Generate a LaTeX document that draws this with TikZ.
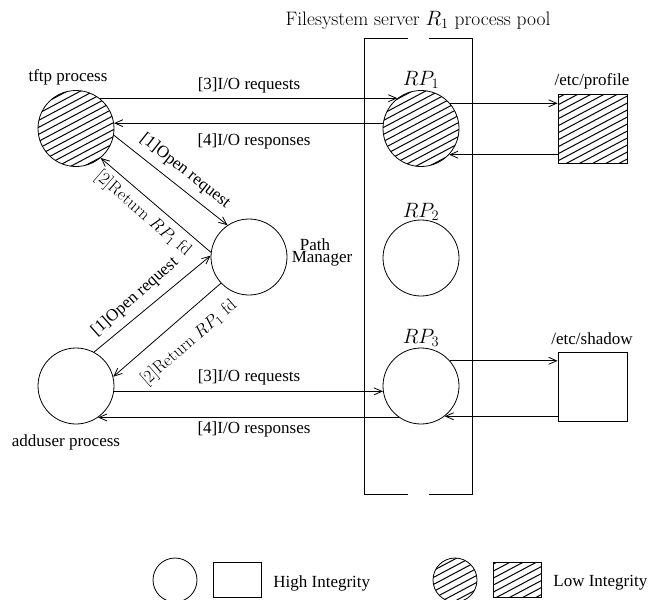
\documentclass[tikz,border=0pt]{standalone}
\usepackage[no-math]{fontspec}
\setmainfont{Liberation Serif}
\newfontfamily\cmfont{Latin Modern Roman}
\usetikzlibrary{arrows.meta}
\begin{document}
\begin{tikzpicture}[x=1pt,y=-1pt, line width=0.8pt,
  >={Straight Barb[length=8pt,width=7pt]},
  proc/.style={circle, draw, minimum size=76pt, inner sep=0pt},
  filebox/.style={rectangle, draw, minimum width=69pt, minimum height=69pt, inner sep=0pt},
  hatched/.style={path picture={
      \foreach \k in {-14,...,14}
        \draw[line width=1pt] ([shift={(-80pt,-42.5pt+\k*7pt)}]path picture bounding box.center) -- ++(160pt,85pt);
  }},
  lbl/.style={font=\fontsize{17}{19}\selectfont, inner sep=0pt},
  cmlbl/.style={font=\cmfont\fontsize{17.5}{19}\selectfont, inner sep=0pt},
  cmbig/.style={font=\cmfont\fontsize{19.5}{21}\selectfont, inner sep=0pt}]
\useasboundingbox (0,0) rectangle (649,600);

% process pool bracket
\draw (408,38) -- (364,38) -- (364,494) -- (408,494);
\draw (429,38) -- (472,38) -- (472,494) -- (429,494);

% nodes
\node[proc,hatched] (tftp) at (76,128.5) {};
\node[proc] (pm) at (249,257) {};
\node[proc] (add) at (76,386) {};
\node[proc,hatched] (rp1) at (421,128.5) {};
\node[proc] (rp2) at (421,258) {};
\node[proc] (rp3) at (421,386) {};
\node[filebox,hatched] (prof) at (592.5,128.5) {};
\node[filebox] (shad) at (592.5,386.5) {};

% labels
\node[lbl] (tftpl) at (68,77) {tftp process};
\node[lbl] (addl) at (66,442) {adduser process};
\node[lbl] (pml1) at (315,245) {Path};
\node[lbl] (pml2) at (322,259) {Manager};
\node[cmbig] (title) at (418,20) {Filesystem server $R_1$ process pool};
\node[cmbig] (rp1l) at (421,80) {$RP_1$};
\node[cmbig] (rp2l) at (421,212) {$RP_2$};
\node[cmbig] (rp3l) at (421,338) {$RP_3$};
\node[lbl] (profl) at (592,81) {/etc/profile};
\node[lbl] (shadl) at (592,339) {/etc/shadow};

% horizontal connectors
\draw[->] (tftp.52) -- (rp1.128);
\draw[->] (rp1.172) -- (tftp.8);
\draw[->] (rp1.41) -- (rp1.41 -| prof.west);
\draw[<-] (rp1.-43) -- (rp1.-43 -| prof.west);
\draw[->] (rp3.41) -- (rp3.41 -| shad.west);
\draw[<-] (rp3.-52) -- (rp3.-52 -| shad.west);
\draw[->] (add.-8) -- (rp3.188);
\draw[->] (rp3.235) -- (add.-55);

\node[lbl] (l3a) at (249,85) {[3]I/O requests};
\node[lbl] (l4a) at (254,141) {[4]I/O responses};
\node[lbl] (l3b) at (249,377) {[3]I/O requests};
\node[lbl] (l4b) at (254,429) {[4]I/O responses};

% diagonal connectors
\draw[->] (tftp.-10) -- (pm.124);
\draw[->] (pm.173) -- (tftp.-50);
\draw[->] (add.62) -- (pm.178);
\draw[->] (pm.223) -- (add.14);

\node[lbl, rotate=-38.3] (l1a) at (185,171) {[1]Open request};
\node[cmlbl, rotate=-40.8] (l2a) at (143,214) {[2]Return $RP_1$ fd};
\node[lbl, rotate=41.7] (l1b) at (135,297) {[1]Open request};
\node[cmlbl, rotate=41] (l2b) at (189,343) {[2]Return $RP_1$ fd};

% legend
\node[circle,draw,minimum size=44pt,inner sep=0pt] (lc1) at (175,580) {};
\node[rectangle,draw,minimum width=48pt,minimum height=35pt,inner sep=0pt] (lr1) at (237,579.5) {};
\node[lbl,anchor=west] (lt1) at (273,583) {High Integrity};
\node[circle,draw,hatched,minimum size=44pt,inner sep=0pt] (lc2) at (455,580) {};
\node[rectangle,draw,hatched,minimum width=48pt,minimum height=35pt,inner sep=0pt] (lr2) at (517,579.5) {};
\node[lbl,anchor=west] (lt2) at (553,583) {Low Integrity};
\end{tikzpicture}
\end{document}
